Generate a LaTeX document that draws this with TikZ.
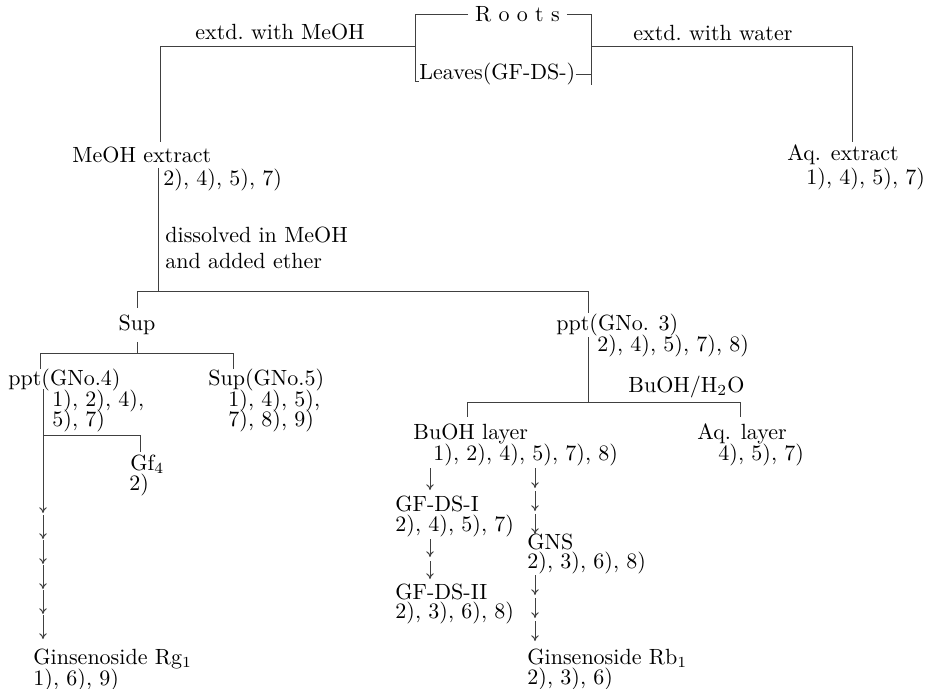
\documentclass[tikz,border=0pt]{standalone}
\usepackage{amsmath}
\usepackage{tikz}
\usetikzlibrary{arrows.meta,positioning}

\begin{document}
\begin{tikzpicture}[x=0.4545pt,y=-0.4545pt,
    every node/.style={inner sep=0pt,anchor=west,font=\fontsize{10}{12}\selectfont},
    ln/.style={line width=0.45pt,black!75},
    arr/.style={ln,-{To[length=2.6pt,width=3.4pt]}}]
  \useasboundingbox (0,0) rectangle (926,688);

  \node[inner xsep=3pt] (roots) at (468,14) {R o o t s};
  \node (leaves) at (419,74) {Leaves(GF-DS-)};
  \coordinate (tl) at (415,14);
  \coordinate (tr) at (591,14);
  \coordinate (bl) at (415,46);
  \coordinate (br) at (591,46);
  \draw[ln] (roots.west) -- (tl) -- (415,81) -- ++(4,0);
  \draw[ln] (roots.east) -- (tr) -- (591,85);
  \draw[ln] (leaves.east) -- (leaves.east -| tr);

  \node (wmeoh) at (195,32) {extd.\ with MeOH};
  \node (wwater) at (633,33) {extd.\ with water};
  \node (meoh) at (72,155) {MeOH extract};
  \node (aqx) at (787,155) {Aq. extract};
  \node (aqxd) at (806,179) {1), 4), 5), 7)};
  \coordinate (lm) at (160,142);
  \coordinate (rw) at (852,142);
  \draw[ln] (bl) -| (lm);
  \draw[ln] (br) -| (rw);

  \coordinate (ms) at (158,291);
  \draw[ln] ([yshift=-2pt]meoh.south -| ms) -- (ms);
  \node (meohd) at (163,180) {2), 4), 5), 7)};
  \node (diss) at (165,235) {dissolved in MeOH};
  \node (ether) at (165,261) {and added ether};

  \coordinate (sl) at (137,291);
  \coordinate (sr) at (588,291);
  \draw[ln] (sl) -- (sr);
  \node[anchor=center] (sup) at (137,325) {Sup};
  \node (ppt3) at (556,325) {ppt(GNo. 3)};
  \draw[ln,shorten >=3pt] (sl) -- (sup.north);
  \draw[ln] (sr) -- (588,313);
  \node (ppt3d) at (597,346) {2), 4), 5), 7), 8)};
  \coordinate (bw) at (588,402);
  \draw[ln] (588,337) -- (bw);
  \node (bwl) at (628,387) {BuOH/H$_2$O};
  \coordinate (bwa) at (467,402);
  \coordinate (bwb) at (740,402);
  \draw[ln] (bwa) -- (bwb);
  \node (buoh) at (413,434) {BuOH layer};
  \node (buohd) at (433,455) {1), 2), 4), 5), 7), 8)};
  \node (aql) at (697,434) {Aq. layer};
  \node (aqld) at (718,455) {4), 5), 7)};
  \draw[ln,shorten >=3pt] (bwa) -- (buoh.north -| bwa);
  \draw[ln,shorten >=3pt] (bwb) -- (aql.north -| bwb);

  \draw[arr] (430,468) -- (430,490);
  \node (gf1) at (395,504) {GF-DS-I};
  \node (gf1d) at (395,526) {2), 4), 5), 7)};
  \draw[arr] (430,539) -- (430,557);
  \draw[arr] (430,561) -- (430,579);
  \node (gf2) at (395,592) {GF-DS-II};
  \node (gf2d) at (395,613) {2), 3), 6), 8)};

  \foreach \y in {468,491,514} \draw[arr] (535,\y) -- (535,\y+20);
  \node (gns) at (527,542) {GNS};
  \node (gnsd) at (527,563) {2), 3), 6), 8)};
  \foreach \y in {575,598,621} \draw[arr] (535,\y) -- (535,\y+20);
  \node (rb1) at (527,658) {Ginsenoside Rb$_1$};
  \node (rb1d) at (527,679) {2), 3), 6)};

  \coordinate (sj) at (137,353);
  \coordinate (sa) at (40,353);
  \coordinate (sb) at (233,353);
  \draw[ln,shorten <=3pt] (sup.south) -- (sj);
  \draw[ln] (sa) -- (sb);
  \node (ppt4) at (8,380) {ppt(GNo.4)};
  \node (sup5) at (208,380) {Sup(GNo.5)};
  \draw[ln] (sa) -- (40,369);
  \draw[ln] (sb) -- (233,369);
  \node (ppt4d) at (52,401) {1), 2), 4),};
  \node (ppt4e) at (52,421) {5), 7)};
  \node (sup5d) at (228,401) {1), 4), 5),};
  \node (sup5e) at (228,421) {7), 8), 9)};
  \coordinate (gj) at (43,435);
  \draw[ln] (43,389) -- (gj) -- (140,435) -- (140,452);
  \node (gf4) at (130,464) {Gf$_4$};
  \node (gf4d) at (129,485) {2)};
  \draw[arr] (gj) -- (43,513);
  \foreach \y in {515,540,565,590,615} \draw[arr] (43,\y) -- (43,\y+24);
  \node (rg1) at (33,659) {Ginsenoside Rg$_1$};
  \node (rg1d) at (33,680) {1), 6), 9)};
\end{tikzpicture}
\end{document}
